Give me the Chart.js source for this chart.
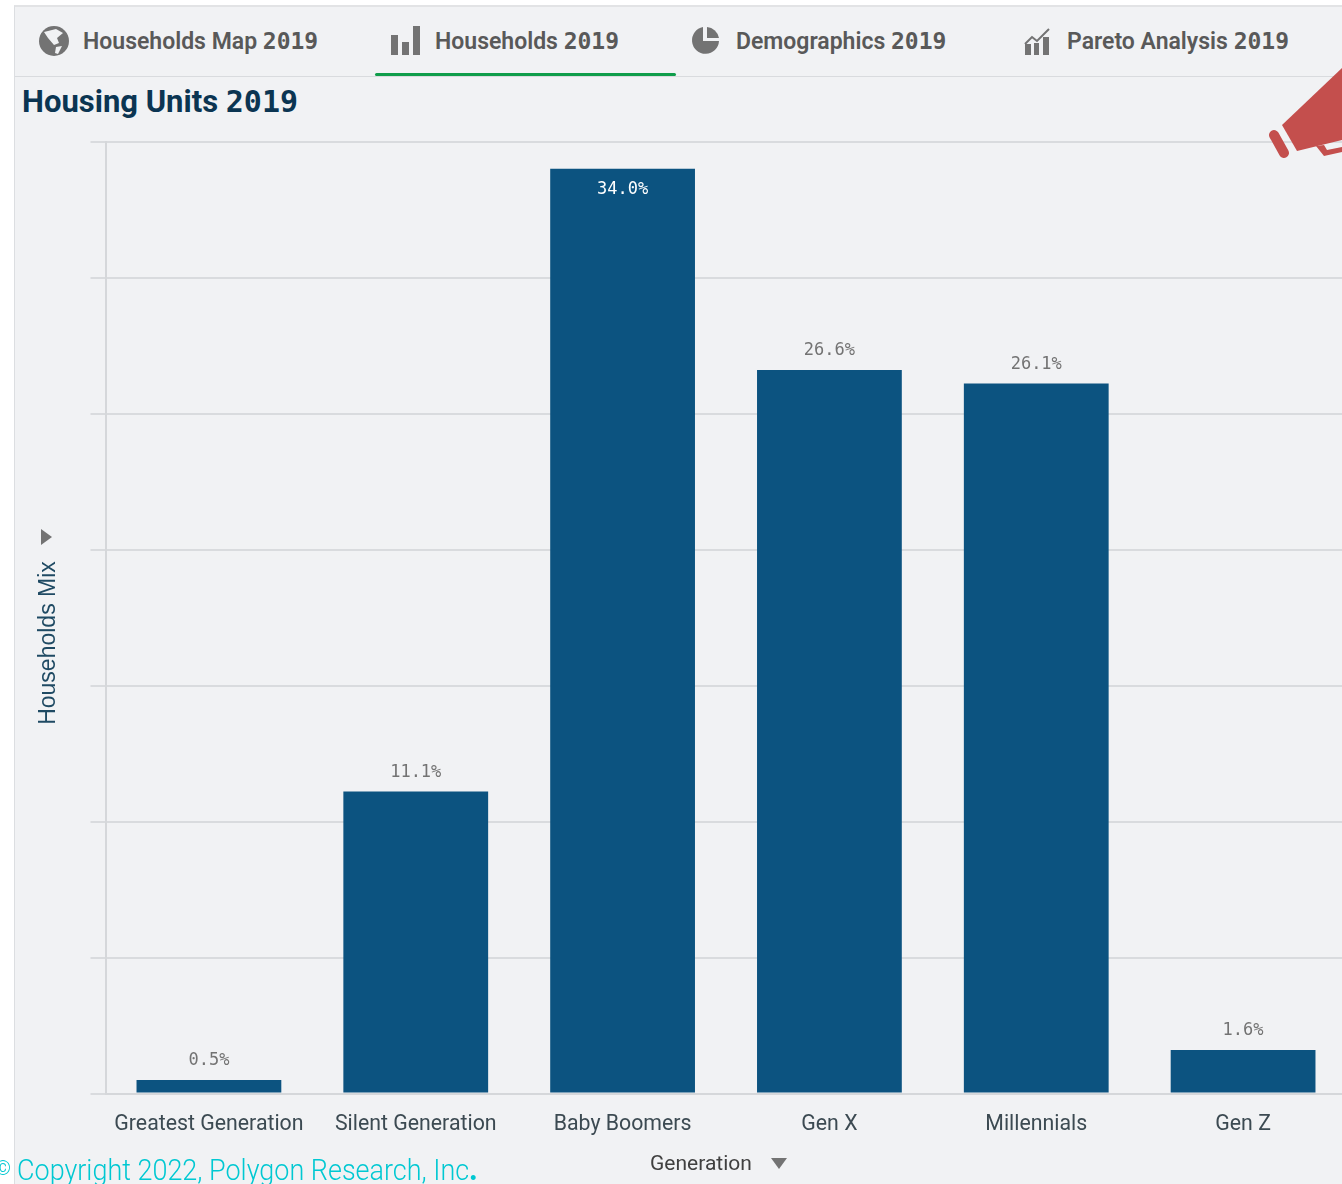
<!DOCTYPE html>
<html>
<head>
<meta charset="utf-8">
<title>Housing Units 2019</title>
<script src="https://cdn.jsdelivr.net/npm/chart.js@4/dist/chart.umd.min.js"></script>
<style>
html, body { margin: 0; padding: 0; background: #fff; }
#page { position: relative; width: 1342px; height: 1184px; overflow: hidden; background: #fff; }
#panel { position: absolute; left: 14px; top: 5px; width: 1328px; height: 1179px; background: #f1f2f4; border-left: 1px solid #dcdee1; border-top: 2px solid #e2e3e5; box-sizing: border-box; }
#tabline { position: absolute; left: 15px; top: 76px; width: 1327px; height: 1px; background: #d9dbde; }
#tabmark { position: absolute; left: 375px; top: 73px; width: 301px; height: 3px; background: #0f9d4a; border-radius: 2px; }
canvas { position: absolute; left: 0; top: 0; }
.tab { position: absolute; top: 26px; font: 600 23px Roboto, sans-serif; color: #595959; white-space: nowrap; line-height: 30px; }
.num { font-family: "DejaVu Sans Mono", monospace; font-weight: 700; font-size: 23px; letter-spacing: 0; }
#title { position: absolute; left: 22px; top: 84px; font: 700 31px Roboto, sans-serif; color: #0b3552; white-space: nowrap; line-height: 36px; }
#title .num { font-size: 30px; }
svg { position: absolute; overflow: visible; }
#ytitle { position: absolute; left: 47px; top: 643px; transform: translate(-50%, -50%) rotate(-90deg); font: 23px "Liberation Sans", sans-serif; color: #1f4a63; white-space: nowrap; }
#xtitle { position: absolute; left: 650px; top: 1150px; font: 21px Roboto, sans-serif; color: #404040; white-space: nowrap; line-height: 26px; }
#copy { position: absolute; left: 17px; top: 1152px; font: 300 29px Roboto, sans-serif; color: #00c8d2; white-space: nowrap; line-height: 36px; transform: scaleX(0.93); transform-origin: left center; }
#copy b { font-weight: 900; }
#copysign { position: absolute; left: -5px; top: 1156px; font: 300 20px Roboto, sans-serif; color: #00c8d2; }
</style>
</head>
<body>
<div id="page">
  <div id="panel"></div>
  <div id="tabline"></div>
  <div id="tabmark"></div>

  <div class="tab" style="left:83px">Households Map <span class="num">2019</span></div>
  <div class="tab" style="left:435px">Households <span class="num">2019</span></div>
  <div class="tab" style="left:736px">Demographics <span class="num">2019</span></div>
  <div class="tab" style="left:1067px">Pareto Analysis <span class="num">2019</span></div>
  <div id="title">Housing Units <span class="num">2019</span></div>

  <canvas id="units-chart" width="1400" height="1184"></canvas>

  <svg style="left:0;top:0" width="1342" height="1184">
    <!-- tab icons -->
    <circle cx="54" cy="41" r="15" fill="#737373"/>
    <path d="M44 32 L56 29 L63 33 L57 38 L59 43 L54 45 L48 38 Z M56 47 L62 46 L58 54 L55 53 Z" fill="#f1f2f4"/>
    <rect x="391" y="35" width="7" height="20" fill="#737373"/>
    <rect x="402" y="42" width="7" height="13" fill="#737373"/>
    <rect x="413" y="26" width="7" height="29" fill="#737373"/>
    <path d="M703 27 A13.5 13.5 0 1 0 719 41 L703 41 Z" fill="#737373"/>
    <path d="M707 27 A13.5 13.5 0 0 1 719 38 L707 38 Z" fill="#737373"/>
    <path d="M1025 44 L1032 37 L1037 41 L1049 29" fill="none" stroke="#737373" stroke-width="2"/>
    <rect x="1025" y="44" width="6" height="11" fill="#737373"/>
    <rect x="1034" y="43" width="5" height="12" fill="#737373"/>
    <rect x="1043" y="37" width="6" height="18" fill="#737373"/>
    <!-- megaphone -->
    <path d="M1282 125 L1342 68 L1342 140 L1297 151 Z" fill="#c44f4d"/>
    <path d="M1274 135 L1284 153" stroke="#c44f4d" stroke-width="10" stroke-linecap="round"/>
    <path d="M1316 146 L1324 156 L1342 152 L1342 147 L1327 150 L1324 145 Z" fill="#c44f4d"/>
    <!-- axis arrows -->
    <path d="M41 529 L52 537 L41 545 Z" fill="#737373"/>
    <path d="M771 1158 L787 1158 L779 1169 Z" fill="#737373"/>
  </svg>

  <div id="ytitle">Households Mix</div>
  <div id="xtitle">Generation</div>
  <div id="copysign">©</div>
  <div id="copy">Copyright 2022, Polygon Research, Inc<b>.</b></div>
</div>

<script>
var categories = ['Greatest Generation', 'Silent Generation', 'Baby Boomers', 'Gen X', 'Millennials', 'Gen Z'];
var householdShare = [0.5, 11.1, 34.0, 26.6, 26.1, 1.6];
var axisMax = 35;
var axisStep = 5;

// value labels sit above the bar, or inside it when the bar is tall
var valueLabels = {
    id: 'valueLabels',
    afterDatasetsDraw: function (chart) {
        var ctx = chart.ctx;
        var bars = chart.getDatasetMeta(0).data;
        ctx.save();
        ctx.font = '17px "DejaVu Sans Mono", monospace';
        ctx.textAlign = 'center';
        ctx.textBaseline = 'middle';
        bars.forEach(function (bar, i) {
            var v = householdShare[i];
            var inside = v > 30;
            ctx.fillStyle = inside ? '#ffffff' : '#737373';
            ctx.fillText(v.toFixed(1) + '%', bar.x, inside ? bar.y + 21 : bar.y - 19);
        });
        ctx.restore();
    }
};

var unitsChart = new Chart(document.getElementById('units-chart'), {
    type: 'bar',
    data: {
        labels: categories,
        datasets: [{
            data: householdShare,
            backgroundColor: '#0c5380',
            barPercentage: 0.7,
            categoryPercentage: 1
        }]
    },
    options: {
        responsive: false,
        animation: false,
        layout: { padding: { left: 90.5, top: 141.5, right: 53.5, bottom: 0 } },
        plugins: { legend: { display: false }, tooltip: { enabled: false } },
        scales: {
            x: {
                grid: { display: false },
                border: { color: '#d5d7da', width: 2 },
                ticks: {
                    color: '#3c4a52',
                    padding: 10,
                    maxRotation: 0,
                    autoSkip: false,
                    font: { family: 'Roboto', size: 21.3 }
                },
                afterFit: function (scale) { scale.height = 90.5; }
            },
            y: {
                min: 0,
                max: axisMax,
                ticks: { display: false, stepSize: axisStep },
                grid: { color: '#d9dbde', lineWidth: 2, tickLength: 15 },
                border: { color: '#d5d7da', width: 2 },
                afterFit: function (scale) { scale.width = 15; }
            }
        }
    },
    plugins: [valueLabels]
});
</script>
</body>
</html>
